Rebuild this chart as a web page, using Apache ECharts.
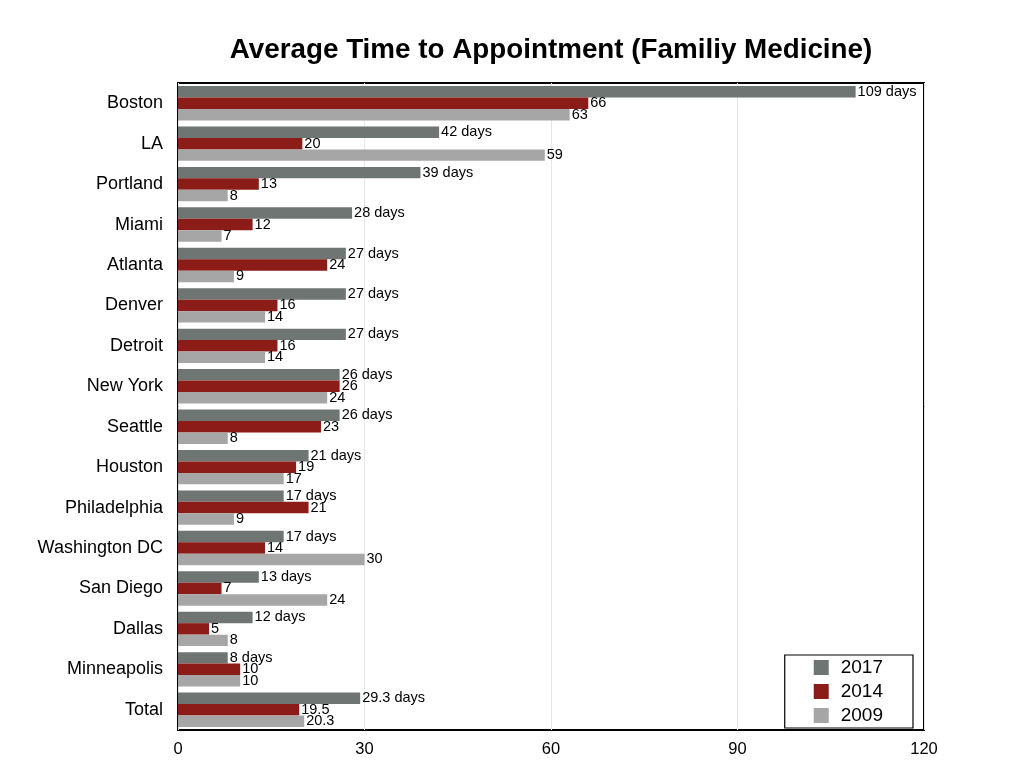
<!DOCTYPE html>
<html><head><meta charset="utf-8">
<script src="https://cdn.jsdelivr.net/npm/echarts@6/dist/echarts.min.js"></script>
<style>html,body{margin:0;padding:0;background:#fff}#c{width:1024px;height:768px}</style>
</head><body><div id="c"></div>
<script>
const categories = ["Boston","LA","Portland","Miami","Atlanta","Denver","Detroit","New York","Seattle","Houston","Philadelphia","Washington DC","San Diego","Dallas","Minneapolis","Total"];
const s2017 = [109,42,39,28,27,27,27,26,26,21,17,17,13,12,8,29.3];
const s2014 = [66,20,13,12,24,16,16,26,23,19,21,14,7,5,10,19.5];
const s2009 = [63,59,8,7,9,14,14,24,8,17,9,30,24,8,10,20.3];
const xTicks = [0,30,60,90,120];

const chart = echarts.init(document.getElementById('c'));
const font = 'Liberation Sans, Arial, sans-serif';
function mk(name, data, color, suffix){
  return {name, type:'bar', data, barGap:'0%', barCategoryGap:'15%',
    itemStyle:{color},
    label:{show:true, position:'right', distance:2, color:'#000', fontSize:14.5, fontFamily:font,
      formatter:p=>p.value+suffix}};
}
chart.setOption({
  animation:false,
  title:{text:'Average Time to Appointment (Familiy Medicine)', left:546, textAlign:'center', top:31,
    textStyle:{fontSize:27.8, fontWeight:'bold', color:'#000', fontFamily:font}},
  grid:{left:178, right:100, top:83, bottom:38, show:true, borderColor:'#000', borderWidth:2, containLabel:false},
  legend:{orient:'vertical', right:111, bottom:40, itemWidth:15, itemHeight:15, itemGap:5,
    padding:[3,30,3,29], borderColor:'#000', borderWidth:1.2, backgroundColor:'#fff',
    icon:'rect', textStyle:{fontSize:19, fontFamily:font, color:'#000', padding:[0,0,0,7]}},
  xAxis:{type:'value', min:0, max:120, interval:30,
    axisLine:{show:false}, axisTick:{show:false},
    splitLine:{show:true, lineStyle:{color:'#e6e6e6'}},
    axisLabel:{fontSize:16.5, color:'#000', fontFamily:font, margin:11,
      formatter:v=>xTicks.includes(v)?String(v):''}},
  yAxis:{type:'category', data:categories, inverse:true,
    axisLine:{show:false}, axisTick:{show:false},
    axisLabel:{fontSize:18, color:'#000', fontFamily:font, margin:15}},
  series:[mk('2017',s2017,'#6f7572',' days'), mk('2014',s2014,'#8b1c17',''), mk('2009',s2009,'#a6a6a6','')]
});
</script></body></html>
